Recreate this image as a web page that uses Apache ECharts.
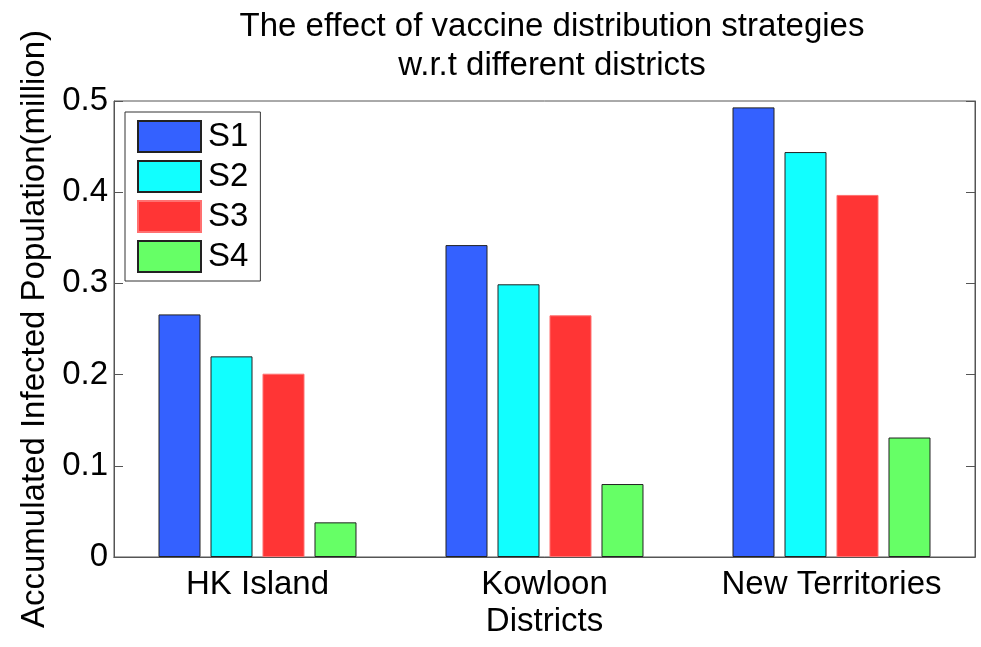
<!DOCTYPE html>
<html>
<head>
<meta charset="utf-8">
<title>Vaccine distribution strategies by district</title>
<script src="https://cdn.jsdelivr.net/npm/echarts@6/dist/echarts.min.js"></script>
<style>
  html, body { margin: 0; padding: 0; background: #fff; }
  #chart { width: 981px; height: 647px; }
</style>
</head>
<body>
<div id="chart"></div>
<script>
// Districts on the x axis
const districts = ['HK Island', 'Kowloon\nDistricts', 'New Territories'];
// Accumulated infected population (million) per strategy
const s1 = [0.266, 0.342, 0.493];
const s2 = [0.220, 0.299, 0.444];
const s3 = [0.201, 0.265, 0.397];
const s4 = [0.038, 0.080, 0.131];
const seriesNames = ['S1', 'S2', 'S3', 'S4'];
const yTicks = [0, 0.1, 0.2, 0.3, 0.4, 0.5];

const FONT = 'Liberation Sans, Arial, Helvetica, sans-serif';
const fills = ['#3461ff', '#11ffff', '#ff3535', '#66ff66'];
const edges = ['#222222', '#222222', '#ff7070', '#222222'];
const values = [s1, s2, s3, s4];

const chart = echarts.init(document.getElementById('chart'), null, { renderer: 'canvas' });

const series = seriesNames.map((name, i) => ({
  name: name,
  type: 'bar',
  xAxisIndex: 0,
  yAxisIndex: 0,
  data: values[i],
  barWidth: 42,
  barGap: '23.8%',
  itemStyle: { color: fills[i], borderColor: edges[i], borderWidth: 1 },
  emphasis: { disabled: true },
  animation: false
}));

const fmtTick = v => (v === 0 ? '0' : String(Math.round(v * 10) / 10));

chart.setOption({
  backgroundColor: '#ffffff',
  animation: false,
  title: {
    text: 'The effect of vaccine distribution strategies\nw.r.t different districts',
    left: 547,
    textAlign: 'center',
    top: 2,
    textStyle: { fontFamily: FONT, fontSize: 33, fontWeight: 'normal', color: '#000', lineHeight: 39 }
  },
  legend: {
    orient: 'vertical',
    left: 125,
    top: 112,
    padding: [8, 12, 8, 12],
    icon: 'rect',
    itemWidth: 63,
    itemHeight: 31,
    itemGap: 7,
    borderColor: '#333',
    borderWidth: 1,
    backgroundColor: '#fff',
    selectedMode: false,
    data: seriesNames,
    textStyle: { fontFamily: FONT, fontSize: 33, color: '#000', lineHeight: 31, padding: [0, 0, 0, 2] }
  },
  grid: {
    left: 114, right: 6, top: 101, bottom: 90,
    show: true, borderColor: '#555', borderWidth: 1, backgroundColor: 'transparent'
  },
  xAxis: [
    {
      type: 'category',
      data: districts,
      position: 'bottom',
      axisLine: { lineStyle: { color: '#555', width: 1 } },
      axisTick: { alignWithLabel: true, inside: true, length: 8, lineStyle: { color: '#555' } },
      axisLabel: { fontFamily: FONT, fontSize: 33, color: '#000', margin: 9, lineHeight: 37 }
    },
    {
      type: 'category',
      data: districts,
      position: 'top',
      axisLine: { lineStyle: { color: '#555', width: 1 } },
      axisTick: { alignWithLabel: true, inside: true, length: 8, lineStyle: { color: '#555' } },
      axisLabel: { show: false }
    }
  ],
  yAxis: [
    {
      type: 'value',
      min: yTicks[0],
      max: yTicks[yTicks.length - 1],
      interval: 0.1,
      name: 'Accumulated Infected Population(million)',
      nameLocation: 'middle',
      nameRotate: 90,
      nameGap: 62,
      nameTextStyle: { fontFamily: FONT, fontSize: 33, color: '#000' },
      axisLine: { show: true, lineStyle: { color: '#555', width: 1 } },
      axisTick: { show: true, inside: true, length: 9, lineStyle: { color: '#555' } },
      splitLine: { show: false },
      axisLabel: { fontFamily: FONT, fontSize: 33, color: '#000', margin: 6, formatter: fmtTick }
    },
    {
      type: 'value',
      min: yTicks[0],
      max: yTicks[yTicks.length - 1],
      interval: 0.1,
      position: 'right',
      axisLine: { show: true, lineStyle: { color: '#555', width: 1 } },
      axisTick: { show: true, inside: true, length: 9, lineStyle: { color: '#555' } },
      splitLine: { show: false },
      axisLabel: { show: false }
    }
  ],
  series: series
});
</script>
</body>
</html>
